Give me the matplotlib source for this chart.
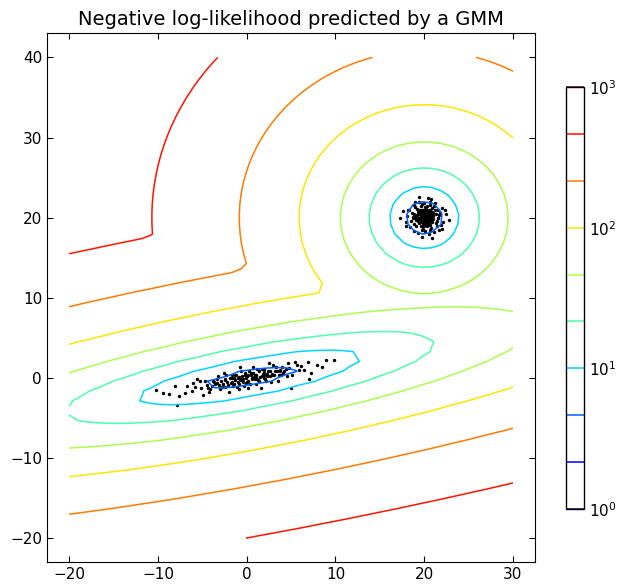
import numpy as np
import matplotlib
matplotlib.use("Agg")
import matplotlib.pyplot as plt
from matplotlib.colors import LogNorm

# GMM parameters (two components), estimated from the contour spacing in the picture
weights = [0.5, 0.5]
means = [[20.0, 20.0], [0.34, 0.03]]
covs = [[[1.02, 0.0], [0.0, 1.02]],
        [[11.89, 2.395], [2.395, 0.914]]]

# evaluation grid limits
x_range = (-20.0, 30.0)
y_range = (-20.0, 40.0)
levels = np.logspace(0, 3, 10)

# training samples: round cluster near (20, 20)
x_round = [20.3, 19.5, 21.2, 18.9, 20.1, 20.8, 19.8, 21.6, 18.6, 20.5,
           19.2, 20.0, 22.1, 18.1, 20.6, 19.7, 21.0, 19.3, 20.2, 18.8,
           21.4, 19.9, 20.4, 19.1, 22.5, 17.6, 20.9, 19.4, 20.7, 19.6,
           20.0, 21.1, 18.4, 19.0, 21.8, 20.3, 19.5, 20.6, 18.7, 21.3,
           20.1, 19.8, 22.0, 17.9, 20.5, 19.3, 21.0, 20.2, 19.0, 21.7,
           20.9, 18.3, 19.6, 20.4, 20.0, 21.5, 19.2, 18.9, 22.8, 20.7,
           19.9, 20.3, 21.2, 18.5, 19.4, 20.8, 20.1, 19.7, 17.3, 21.9,
           20.6, 19.0, 20.4, 19.8, 21.3, 18.2, 20.9, 19.5, 20.2, 21.6,
           19.1, 20.0, 22.3, 18.7, 20.5, 19.3, 21.1, 20.7, 19.6, 18.0,
           20.3, 21.4, 19.9, 20.8, 18.8, 21.7, 20.1, 19.4, 22.0, 20.6,
           20.2, 19.8, 20.5, 19.6, 20.1, 20.4, 19.9, 20.7, 19.4, 20.0,
           20.3, 19.7, 20.6, 19.5, 20.9, 19.3, 20.2, 19.8, 20.8, 19.2,
           20.0, 20.5, 19.6, 20.4, 19.9, 21.0, 19.1, 20.3, 19.7, 20.1,
           20.6, 19.4, 20.0, 19.8, 20.9, 19.5, 20.4, 19.3, 20.7, 19.6]
y_round = [19.6, 20.4, 20.9, 19.2, 21.3, 18.7, 20.1, 19.9, 20.6, 17.9,
           21.1, 20.3, 19.4, 20.2, 22.0, 18.5, 19.8, 20.7, 20.0, 21.6,
           18.9, 19.3, 22.4, 19.7, 20.5, 20.8, 17.5, 21.9, 19.1, 20.6,
           19.0, 21.4, 18.8, 20.0, 20.6, 20.8, 19.5, 20.4, 19.9, 19.3,
           18.3, 21.7, 21.2, 19.4, 21.0, 18.1, 20.2, 19.5, 21.3, 18.4,
           20.7, 21.0, 19.8, 19.9, 21.8, 20.0, 20.3, 18.3, 19.7, 21.6,
           20.9, 18.9, 21.8, 19.6, 22.6, 19.6, 20.5, 19.0, 19.9, 19.1,
           18.5, 21.9, 20.2, 17.6, 20.5, 20.9, 21.2, 20.8, 21.1, 21.0,
           18.9, 19.4, 20.9, 20.1, 19.2, 19.6, 18.2, 20.0, 21.4, 18.9,
           21.5, 19.6, 18.6, 22.3, 20.4, 20.3, 19.8, 20.0, 18.6, 20.9,
           20.1, 19.7, 20.3, 20.2, 19.5, 19.8, 20.6, 20.1, 19.9, 20.0,
           20.4, 19.4, 19.6, 20.5, 20.3, 20.4, 19.2, 20.9, 19.9, 19.8,
           20.7, 19.4, 19.6, 20.7, 19.1, 20.6, 20.2, 19.7, 20.4, 20.9,
           20.6, 19.3, 19.6, 20.3, 19.5, 21.0, 19.1, 20.9, 20.8, 18.9]

# training samples: stretched cluster near the origin
x_long = [-0.5, 2.1, -3.4, 4.8, 1.0, -6.2, 0.3, -1.7, 3.3, -2.6,
          6.5, -0.9, 1.8, -4.5, 8.9, -8.1, 2.7, -1.2, 0.6, 5.4,
          -3.0, -0.1, 3.9, -5.3, 1.4, -2.2, 7.3, -0.7, 2.4, -7.0,
          0.9, -1.5, 4.2, -3.8, -10.2, 0.0, 3.0, -4.9, 1.6, -2.9,
          5.9, -0.4, 2.0, -5.8, 9.8, -1.0, 0.4, 3.6, -2.4, 1.2,
          -3.6, 6.9, -0.2, 2.9, -6.7, 0.7, -1.9, 4.5, -4.1, 1.9,
          -8.8, -0.6, 3.2, -2.0, 0.2, 5.1, -1.3, 2.5, -5.1, 7.9,
          -0.3, 1.1, -3.2, 4.0, -1.6, 0.8, -4.3, 2.2, -7.6, 3.5,
          -0.8, 6.1, -2.7, 1.3, -1.1, 0.5, -5.6, 2.6, -3.9, 4.6,
          0.1, -2.3, 1.7, -9.4, 3.7, -1.4, 5.7, -0.9, 2.3, -4.7,
          -7.8, 8.5, 7.0, -6.0, 5.0,
          0.5, -0.6, 1.5, -1.8, 2.8, -2.5, 0.9, -0.2, 1.9, -3.1,
          3.4, -1.4, 0.2, 2.3, -0.9, 1.2, -2.1, 0.7, -3.7, 4.1,
          -0.4, 1.7, -1.6, 2.6, -2.8, 0.0, 3.1, -1.0, 0.6, -0.1,
          2.0, -2.4, 1.0, -4.4, 4.4, -0.7, 1.4, -1.3, 3.8, -3.3]
y_long = [0.2, -0.2, -0.2, 1.2, -0.7, -1.6, 0.9, -0.5, 1.3, 0.6,
          1.0, -1.4, 0.5, -0.9, 2.2, -1.0, -0.5, 0.4, -0.2, 2.0,
          -1.4, 0.0, 0.3, -0.4, 0.8, -0.5, 0.6, 1.3, 0.8, -1.9,
          0.4, -1.0, 0.8, -0.4, -1.5, -0.5, 1.6, -2.1, -1.2, -0.4,
          1.0, -0.5, 1.1, -1.1, 2.2, 0.0, -0.7, 0.4, -1.1, 1.1,
          -0.8, 2.0, 0.6, 0.5, -1.0, 1.3, 0.0, 0.2, -1.4, 0.0,
          -2.0, 0.8, 0.9, -1.7, 0.4, 0.4, -0.3, 1.8, -1.3, 1.6,
          -1.0, 0.2, 0.2, 1.4, 0.4, 0.1, -1.8, -0.4, -2.2, -0.4,
          -0.1, 1.5, -0.8, -0.3, -1.1, 0.6, -0.1, 0.9, -1.0, 1.9,
          -1.2, 0.4, 1.1, -1.9, 0.8, 0.0, 1.6, -0.7, 0.2, -0.4,
          -3.4, 1.4, -0.1, -0.6, -1.2,
          0.3, -0.3, 0.1, -0.6, 0.4, -0.2, -0.2, 0.3, 0.7, -0.9,
          0.9, -0.7, -0.4, 0.5, 0.1, -0.1, -0.9, 0.6, -0.5, 0.6,
          -0.1, 0.2, 0.0, 0.2, -1.1, 0.2, 0.3, -0.5, 0.0, -0.6,
          0.3, -0.3, 0.4, -1.2, 1.1, -0.2, -0.4, 0.3, 1.0, -0.6]


def neg_log_likelihood(xx, yy):
    pts = np.stack([xx.ravel(), yy.ravel()], axis=1)
    log_terms = []
    for w, m, c in zip(weights, means, covs):
        c = np.array(c)
        d = pts - np.array(m)
        inv = np.linalg.inv(c)
        maha = np.einsum('ij,jk,ik->i', d, inv, d)
        log_terms.append(np.log(w) - 0.5 * maha - np.log(2 * np.pi)
                         - 0.5 * np.log(np.linalg.det(c)))
    return -np.logaddexp(log_terms[0], log_terms[1]).reshape(xx.shape)


x = np.linspace(*x_range)
y = np.linspace(*y_range)
X, Y = np.meshgrid(x, y)
Z = neg_log_likelihood(X, Y)

fig = plt.figure(figsize=(6.18, 5.85), dpi=100)
ax = fig.add_axes([0.076, 0.039, 0.79, 0.904])
cax = fig.add_axes([0.916, 0.130, 0.029, 0.721])

CS = ax.contour(X, Y, Z, levels=levels, norm=LogNorm(vmin=1.0, vmax=1000.0),
                cmap='jet', linewidths=1.1)
ax.scatter(x_round + x_long, y_round + y_long, s=6, c='black', linewidths=0)

ax.set_xlim(-22.5, 32.5)
ax.set_ylim(-23, 43)
ax.set_xticks([-20, -10, 0, 10, 20, 30])
ax.set_yticks([-20, -10, 0, 10, 20, 30, 40])
ax.tick_params(direction='in', top=True, right=True, labelsize=11, length=4)
ax.set_title('Negative log-likelihood predicted by a GMM', fontsize=14)

cb = fig.colorbar(CS, cax=cax)
cb.ax.minorticks_off()
cb.set_ticks([1, 10, 100, 1000])
cb.ax.tick_params(length=0, labelsize=11)
cb.outline.set_linewidth(1.0)

plt.savefig('out.png', dpi=100)
